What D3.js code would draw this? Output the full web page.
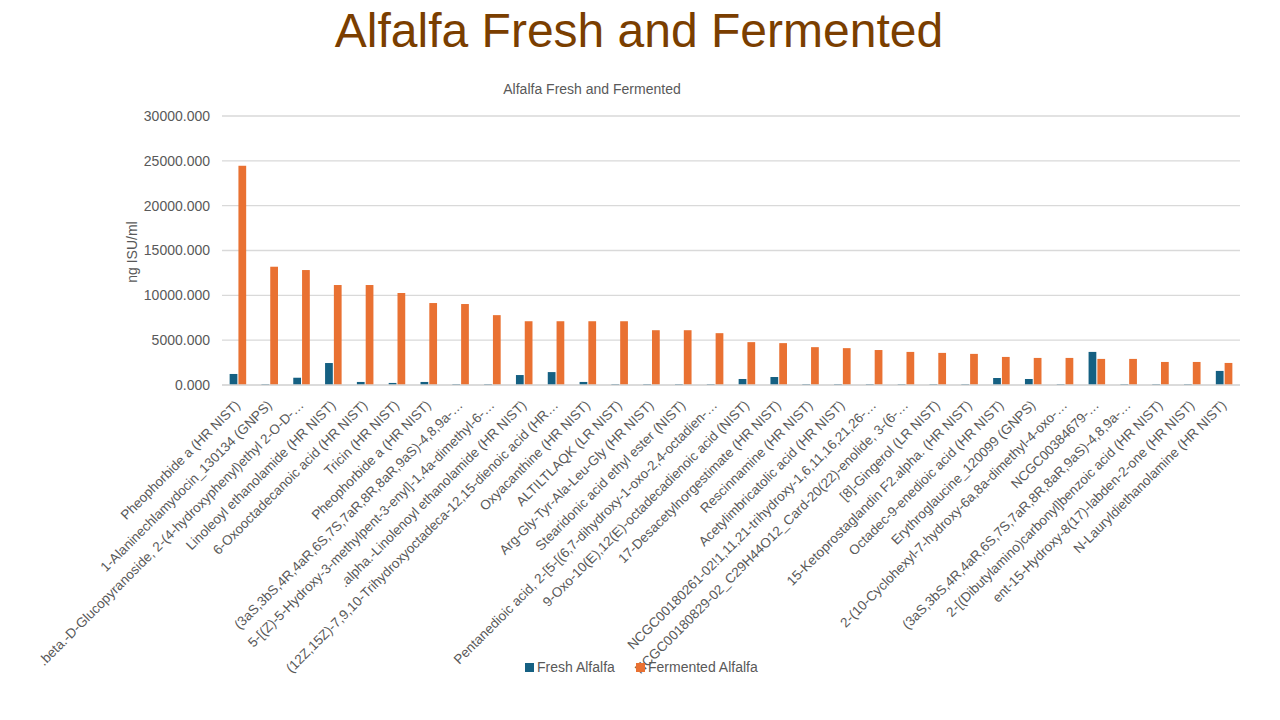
<!DOCTYPE html>
<html>
<head>
<meta charset="utf-8">
<script src="https://cdn.jsdelivr.net/npm/d3@7"></script>
<style>
  body { margin: 0; background: #fff; }
  svg text { font-family: "Liberation Sans", Arial, sans-serif; }
</style>
</head>
<body>
<div id="chart"></div>
<script>
// compound names as they appear on the axis (long ones are cut off in the source)
const compounds = [
  "Pheophorbide a (HR NIST)",
  "1-Alaninechlamydocin_130134 (GNPS)",
  ".beta.-D-Glucopyranoside, 2-(4-hydroxyphenyl)ethyl 2-O-D-…",
  "Linoleoyl ethanolamide (HR NIST)",
  "6-Oxooctadecanoic acid (HR NIST)",
  "Tricin (HR NIST)",
  "Pheophorbide a (HR NIST)",
  "(3aS,3bS,4R,4aR,6S,7S,7aR,8R,8aR,9aS)-4,8,9a-…",
  "5-[(Z)-5-Hydroxy-3-methylpent-3-enyl]-1,4a-dimethyl-6-…",
  ".alpha.-Linolenoyl ethanolamide (HR NIST)",
  "(12Z,15Z)-7,9,10-Trihydroxyoctadeca-12,15-dienoic acid (HR…",
  "Oxyacanthine (HR NIST)",
  "ALTILTLAQK (LR NIST)",
  "Arg-Gly-Tyr-Ala-Leu-Gly (HR NIST)",
  "Stearidonic acid ethyl ester (NIST)",
  "Pentanedioic acid, 2-[5-[(6,7-dihydroxy-1-oxo-2,4-octadien-…",
  "9-Oxo-10(E),12(E)-octadecadienoic acid (NIST)",
  "17-Desacetylnorgestimate (HR NIST)",
  "Rescinnamine (HR NIST)",
  "Acetylimbricatolic acid (HR NIST)",
  "NCGC00180261-02!1,11,21-trihydroxy-1,6,11,16,21,26-…",
  "NCGC00180829-02_C29H44O12_Card-20(22)-enolide, 3-(6-…",
  "[8]-Gingerol (LR NIST)",
  "15-Ketoprostaglandin F2.alpha. (HR NIST)",
  "Octadec-9-enedioic acid (HR NIST)",
  "Erythroglaucine_120099 (GNPS)",
  "2-(10-Cyclohexyl-7-hydroxy-6a,8a-dimethyl-4-oxo-…",
  "NCGC00384679-…",
  "(3aS,3bS,4R,4aR,6S,7S,7aR,8R,8aR,9aS)-4,8,9a-…",
  "2-[(Dibutylamino)carbonyl]benzoic acid (HR NIST)",
  "ent-15-Hydroxy-8(17)-labden-2-one (HR NIST)",
  "N-Lauryldiethanolamine (HR NIST)"
];

const freshValues = [
  1230, 100, 810, 2450, 340, 230, 340, 110, 110, 1110,
  1440, 340, 110, 110, 110, 110, 670, 890, 110, 110,
  110, 100, 100, 100, 780, 670, 100, 3690, 100, 100,
  100, 1570
];

const fermentedValues = [
  24450, 13190, 12820, 11150, 11150, 10260, 9140, 9030, 7790, 7110,
  7110, 7110, 7110, 6110, 6110, 5780, 4780, 4670, 4220, 4110,
  3900, 3690, 3580, 3470, 3130, 3020, 3020, 2910, 2910, 2570,
  2570, 2460
];

const seriesNames = ["Fresh Alfalfa", "Fermented Alfalfa"];
const seriesColors = ["#156082", "#E97132"];
const yTicks = [0, 5000, 10000, 15000, 20000, 25000, 30000];

const W = 1280, H = 720;
const margin = { top: 116, right: 40, bottom: 335, left: 222 };
const width = W - margin.left - margin.right;
const height = H - margin.top - margin.bottom;

const svg = d3.select("#chart").append("svg")
  .attr("width", W)
  .attr("height", H);

// big heading and the chart's own title
svg.append("text")
  .attr("x", 639)
  .attr("y", 47)
  .attr("text-anchor", "middle")
  .attr("fill", "#7A3E00")
  .style("font-size", "48px")
  .text("Alfalfa Fresh and Fermented");

svg.append("text")
  .attr("x", 592)
  .attr("y", 94)
  .attr("text-anchor", "middle")
  .attr("fill", "#595959")
  .style("font-size", "14px")
  .text("Alfalfa Fresh and Fermented");

const g = svg.append("g")
  .attr("transform", `translate(${margin.left},${margin.top})`);

const rows = compounds.map((c, i) => ({
  idx: i,
  name: c,
  vals: [freshValues[i], fermentedValues[i]]
}));

const x = d3.scaleBand()
  .domain(rows.map(d => d.idx))
  .range([0, width])
  .paddingInner(0.48)
  .paddingOuter(0.24);

const xInner = d3.scaleBand()
  .domain([0, 1])
  .range([0, x.bandwidth()])
  .paddingInner(0.12);

const y = d3.scaleLinear()
  .domain([0, 30000])
  .range([height, 0]);

// gridlines
g.append("g")
  .selectAll("line")
  .data(yTicks)
  .enter()
  .append("line")
  .attr("x1", 0)
  .attr("x2", width)
  .attr("y1", d => y(d))
  .attr("y2", d => y(d))
  .attr("stroke", "#d9d9d9")
  .attr("stroke-width", 1.3);

// y axis labels
const yAxis = d3.axisLeft(y)
  .tickValues(yTicks)
  .tickSize(0)
  .tickPadding(12)
  .tickFormat(d3.format(".3f"));

const yAxisG = g.append("g").call(yAxis);
yAxisG.select(".domain").remove();
yAxisG.selectAll("text")
  .attr("fill", "#595959")
  .style("font-size", "14px")
  .style("font-family", "Liberation Sans, Arial, sans-serif");

// bars
const groups = g.selectAll(".grp")
  .data(rows)
  .enter()
  .append("g")
  .attr("class", "grp")
  .attr("transform", d => `translate(${x(d.idx)},0)`);

groups.selectAll("rect")
  .data(d => d.vals.map((v, k) => ({ k, v })))
  .enter()
  .append("rect")
  .attr("x", d => xInner(d.k))
  .attr("width", xInner.bandwidth())
  .attr("y", d => y(d.v))
  .attr("height", d => height - y(d.v))
  .attr("fill", d => seriesColors[d.k]);

// x axis baseline
g.append("line")
  .attr("x1", 0)
  .attr("x2", width)
  .attr("y1", height)
  .attr("y2", height)
  .attr("stroke", "#d9d9d9")
  .attr("stroke-width", 1.3);

// rotated category labels
g.append("g")
  .selectAll("text")
  .data(rows)
  .enter()
  .append("text")
  .attr("transform", d => `translate(${x(d.idx) + x.bandwidth() / 2 + 3},${height + 21}) rotate(-45)`)
  .attr("text-anchor", "end")
  .attr("fill", "#595959")
  .style("font-size", "13.5px")
  .text(d => d.name);

// y title
svg.append("text")
  .attr("transform", `translate(137,${margin.top + 136}) rotate(-90)`)
  .attr("text-anchor", "middle")
  .attr("fill", "#595959")
  .style("font-size", "14px")
  .text("ng ISU/ml");

// legend
const legend = svg.append("g")
  .attr("transform", "translate(525,667)");

const legendX = [0, 111];
seriesNames.forEach((name, i) => {
  const item = legend.append("g").attr("transform", `translate(${legendX[i]},0)`);
  item.append("rect")
    .attr("x", 0)
    .attr("y", -4)
    .attr("width", 9)
    .attr("height", 9)
    .attr("fill", seriesColors[i]);
  item.append("text")
    .attr("x", 12)
    .attr("y", 5)
    .attr("fill", "#595959")
    .style("font-size", "14px")
    .text(name);
});
</script>
</body>
</html>
